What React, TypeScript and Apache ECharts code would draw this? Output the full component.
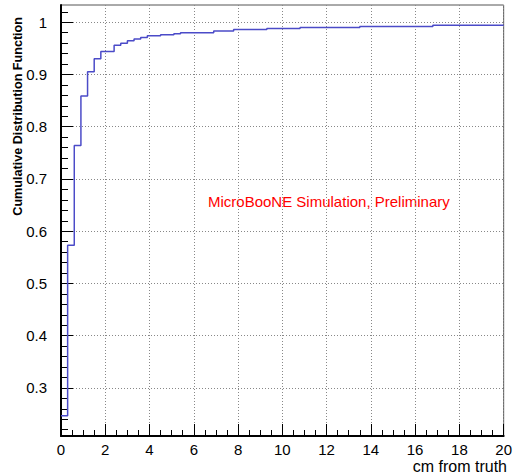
import React, { useEffect, useRef } from "react";
import * as echarts from "echarts";

// Bin left edges (cm) where the CDF steps, and the CDF value of each bin
const binEdges = [0, 0.3, 0.6, 0.9, 1.2, 1.5, 1.8, 2.4, 2.7, 3.0, 3.3, 3.6, 3.9, 4.5, 5.1, 5.4, 6.9, 7.8, 9.3, 10.8, 13.5, 16.8, 20];
const cdfValues = [0.247, 0.573, 0.764, 0.859, 0.905, 0.93, 0.944, 0.956, 0.96, 0.9645, 0.968, 0.971, 0.974, 0.976, 0.978, 0.98, 0.983, 0.986, 0.988, 0.99, 0.992, 0.994, 0.994];

const yMajorTicks = [0.3, 0.4, 0.5, 0.6, 0.7, 0.8, 0.9, 1];
const yMinorTicks = [0.22, 0.24, 0.26, 0.28, 0.32, 0.34, 0.36, 0.38, 0.42, 0.44, 0.46, 0.48, 0.52, 0.54, 0.56, 0.58, 0.62, 0.64, 0.66, 0.68, 0.72, 0.74, 0.76, 0.78, 0.82, 0.84, 0.86, 0.88, 0.92, 0.94, 0.96, 0.98, 1.02];
const xMin = 0;
const xMax = 20;
const xInterval = 2;
const yMin = 0.208;
const yMax = 1.033;

const yTitle = "Cumulative Distribution Function";
const xTitle = "cm from truth";
const annotation = "MicroBooNE Simulation, Preliminary";

const FONT = "'Liberation Sans', Arial, Helvetica, sans-serif";

export default function App() {
  const ref = useRef<HTMLDivElement>(null);
  useEffect(() => {
    if (!ref.current) return;
    const chart = echarts.init(ref.current, undefined, { renderer: "svg" });
    const data = binEdges.map((x, i) => [x, cdfValues[i]]);
    chart.setOption({
      animation: false,
      backgroundColor: "#ffffff",
      grid: {
        left: 61,
        right: 8,
        top: 5,
        bottom: 37,
        show: true,
        borderColor: "#555",
        borderWidth: 1,
        backgroundColor: "transparent",
      },
      xAxis: {
        type: "value",
        min: xMin,
        max: xMax,
        interval: xInterval,
        axisLine: { show: true, onZero: false, lineStyle: { color: "#000", width: 2 } },
        axisTick: { show: true, inside: true, length: 12, lineStyle: { color: "#000", width: 1 } },
        minorTick: { show: true, splitNumber: 4, length: 6, lineStyle: { color: "#000", width: 1 } },
        axisLabel: {
          show: true,
          margin: 6,
          color: "#000",
          fontFamily: FONT,
          fontSize: 15,
          showMaxLabel: true,
          showMinLabel: true,
        },
        splitLine: { show: true, lineStyle: { color: "#888", type: [1, 2], width: 1 } },
        minorSplitLine: { show: false },
      },
      yAxis: [
        {
          type: "value",
          min: yMin,
          max: yMax,
          axisLine: { show: true, onZero: false, lineStyle: { color: "#000", width: 2 } },
          axisTick: { show: true, inside: true, length: 12, customValues: yMajorTicks, lineStyle: { color: "#000", width: 1 } },
          axisLabel: {
            show: true,
            customValues: yMajorTicks,
            margin: 14,
            color: "#000",
            fontFamily: FONT,
            fontSize: 15,
            formatter: (v: number) => String(Math.round(v * 10) / 10),
          },
          splitLine: { show: true, lineStyle: { color: "#888", type: [1, 2], width: 1 } },
        },
        {
          type: "value",
          min: yMin,
          max: yMax,
          position: "left",
          offset: 0,
          axisLine: { show: false },
          axisTick: { show: true, inside: true, length: 7, customValues: yMinorTicks, lineStyle: { color: "#000", width: 1 } },
          axisLabel: { show: false, customValues: yMinorTicks },
          splitLine: { show: false },
        },
      ],
      series: [
        {
          type: "line",
          step: "end",
          data,
          yAxisIndex: 0,
          symbol: "none",
          lineStyle: { color: "#4b4bc8", width: 1.5 },
          clip: true,
          z: 5,
        },
      ],
      graphic: [
        {
          type: "text",
          right: 8,
          top: 458,
          style: { text: xTitle, fill: "#000", font: `16px ${FONT}`, textAlign: "right" },
        },
        {
          type: "text",
          left: 11,
          top: 17,
          rotation: Math.PI / 2,
          style: { text: yTitle, fill: "#000", font: `bold 12.6px ${FONT}` },
        },
        {
          type: "text",
          left: 208,
          top: 194,
          style: { text: annotation, fill: "#ff0000", font: `15px ${FONT}` },
        },
      ],
    });
    return () => chart.dispose();
  }, []);
  return (
    <div
      ref={ref}
      style={{ position: "fixed", left: 0, top: 0, width: 515, height: 473 }}
    />
  );
}
